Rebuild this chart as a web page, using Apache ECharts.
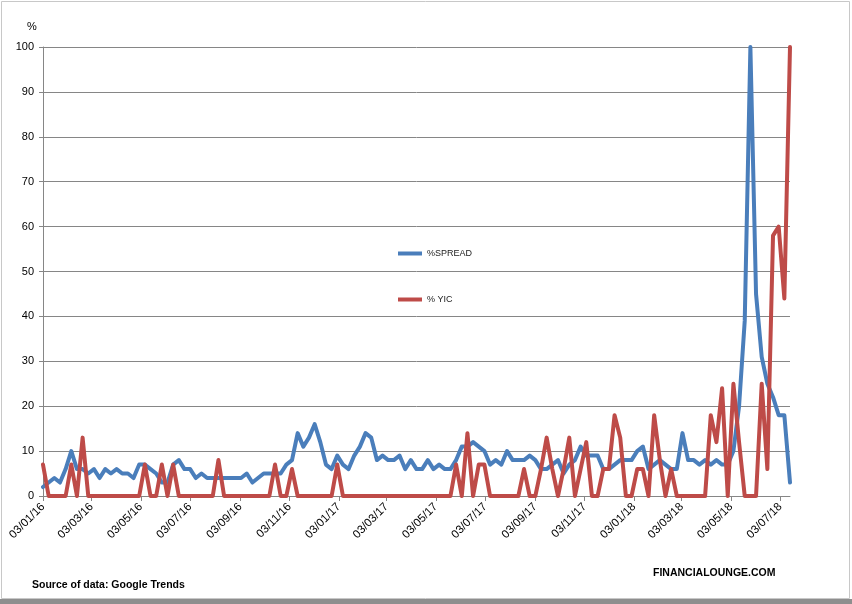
<!DOCTYPE html>
<html>
<head>
<meta charset="utf-8">
<script src="https://cdn.jsdelivr.net/npm/echarts@6/dist/echarts.min.js"></script>
<style>
html,body{margin:0;padding:0;background:#fff;}
#chart{width:852px;height:604px;}
</style>
</head>
<body>
<div id="chart"></div>
<script>
// Weekly Google Trends series, first week 03/01/16, last week 15/07/18
const firstWeek = [2016, 1, 3];
const weekCount = 133;

const spread = [
  2,3,4,3,6,10,6,6,5,6, 4,6,5,6,5,5,4,7,7,6,
  5,3,3,7,8,6,6,4,5,4, 4,4,4,4,4,4,5,3,4,5,
  5,5,5,7,8,14,11,13,16,12, 7,6,9,7,6,9,11,14,13,8,
  9,8,8,9,6,8,6,6,8,6, 7,6,6,8,11,11,12,11,10,7,
  8,7,10,8,8,8,9,8,6,6, 7,8,5,7,8,11,9,9,9,6,
  6,7,8,8,8,10,11,6,7,8, 7,6,6,14,8,8,7,8,7,8,
  7,7,10,20,39,100,45,31,25,22, 18,18,3
];

const yic = [
  7,0,0,0,0,7,0,13,0,0, 0,0,0,0,0,0,0,0,7,0,
  0,7,0,7,0,0,0,0,0,0, 0,8,0,0,0,0,0,0,0,0,
  0,7,0,0,6,0,0,0,0,0, 0,0,7,0,0,0,0,0,0,0,
  0,0,0,0,0,0,0,0,0,0, 0,0,0,7,0,14,0,7,7,0,
  0,0,0,0,0,6,0,0,6,13, 6,0,6,13,0,6,12,0,0,6,
  6,18,13,0,0,6,6,0,18,8, 0,6,0,0,0,0,0,0,18,12,
  24,0,25,12,0,0,0,25,6,58, 60,44,100
];

// Tick label dates (dd/mm/yy)
const tickLabels = [
  '03/01/16','03/03/16','03/05/16','03/07/16','03/09/16','03/11/16',
  '03/01/17','03/03/17','03/05/17','03/07/17','03/09/17','03/11/17',
  '03/01/18','03/03/18','03/05/18','03/07/18'
];

const seriesNames = ['%SPREAD', '% YIC'];
const colors = ['#4A7EBB', '#BE4B48'];

function parseDMY(s) {
  const p = s.split('/').map(Number);
  return new Date(2000 + p[2], p[1] - 1, p[0]).getTime();
}
function pad(n) { return (n < 10 ? '0' : '') + n; }
function fmt(ts) {
  const d = new Date(ts);
  return pad(d.getDate()) + '/' + pad(d.getMonth() + 1) + '/' + pad(d.getFullYear() % 100);
}

const weeks = [];
for (let i = 0; i < weekCount; i++) {
  weeks.push(new Date(firstWeek[0], firstWeek[1] - 1, firstWeek[2] + 7 * i).getTime());
}
const tickValues = tickLabels.map(parseDMY);

const chart = echarts.init(document.getElementById('chart'), null, {renderer: 'canvas'});

const axisColor = '#868686';
const font = "'Liberation Sans', Arial, sans-serif";

chart.setOption({
  animation: false,
  backgroundColor: '#ffffff',
  textStyle: {fontFamily: font},
  title: [
    {text: '%', left: 22, top: 16, textStyle: {fontSize: 11, fontWeight: 'normal', color: '#000', fontFamily: font}},
    {text: 'Source of data: Google Trends', left: 27, top: 575, textStyle: {fontSize: 10.5, fontWeight: 'bold', color: '#000', fontFamily: font}},
    {text: 'FINANCIALOUNGE.COM', left: 648, top: 563, textStyle: {fontSize: 10.5, fontWeight: 'bold', color: '#000', fontFamily: font}}
  ],
  legend: {
    data: seriesNames,
    orient: 'vertical',
    left: 393,
    top: 244,
    itemWidth: 24,
    itemHeight: 4,
    itemGap: 37,
    icon: 'rect',
    textStyle: {fontSize: 9, color: '#222', fontFamily: font}
  },
  grid: {left: 43, right: 62, top: 47, bottom: 108, containLabel: false},
  xAxis: {
    type: 'value',
    min: weeks[0],
    max: weeks[weeks.length - 1],
    scale: true,
    axisLine: {show: true, onZero: false, lineStyle: {color: axisColor, width: 1}},
    axisTick: {show: true, customValues: tickValues, length: 5, lineStyle: {color: axisColor}},
    axisLabel: {
      customValues: tickValues,
      rotate: 45,
      formatter: function (v) { return fmt(v); },
      fontSize: 11.5,
      color: '#000',
      margin: 9,
      fontFamily: font,
      showMinLabel: true,
      showMaxLabel: true
    },
    splitLine: {show: false}
  },
  yAxis: {
    type: 'value',
    min: 0,
    max: 100,
    interval: 10,
    axisLine: {show: true, lineStyle: {color: axisColor, width: 1}},
    axisTick: {show: true, length: 4, lineStyle: {color: axisColor}},
    axisLabel: {fontSize: 11, color: '#000', margin: 9, fontFamily: font},
    splitLine: {show: true, lineStyle: {color: axisColor, width: 1}}
  },
  series: [
    {
      name: seriesNames[0],
      type: 'line',
      data: weeks.map((t, i) => [t, spread[i]]),
      symbol: 'none',
      smooth: false,
      color: colors[0],
      lineStyle: {width: 4, color: colors[0], cap: 'round', join: 'round'}
    },
    {
      name: seriesNames[1],
      type: 'line',
      data: weeks.map((t, i) => [t, yic[i]]),
      symbol: 'none',
      smooth: false,
      color: colors[1],
      lineStyle: {width: 4, color: colors[1], cap: 'round', join: 'round'}
    }
  ],
  graphic: [
    {type: 'rect', silent: true, shape: {x: 1.5, y: 1.5, width: 848, height: 597}, style: {fill: null, stroke: '#c8c8c8', lineWidth: 1}},
    {type: 'rect', silent: true, shape: {x: 0, y: 599, width: 852, height: 5}, style: {fill: '#8e8e8e'}}
  ]
});
</script>
</body>
</html>
